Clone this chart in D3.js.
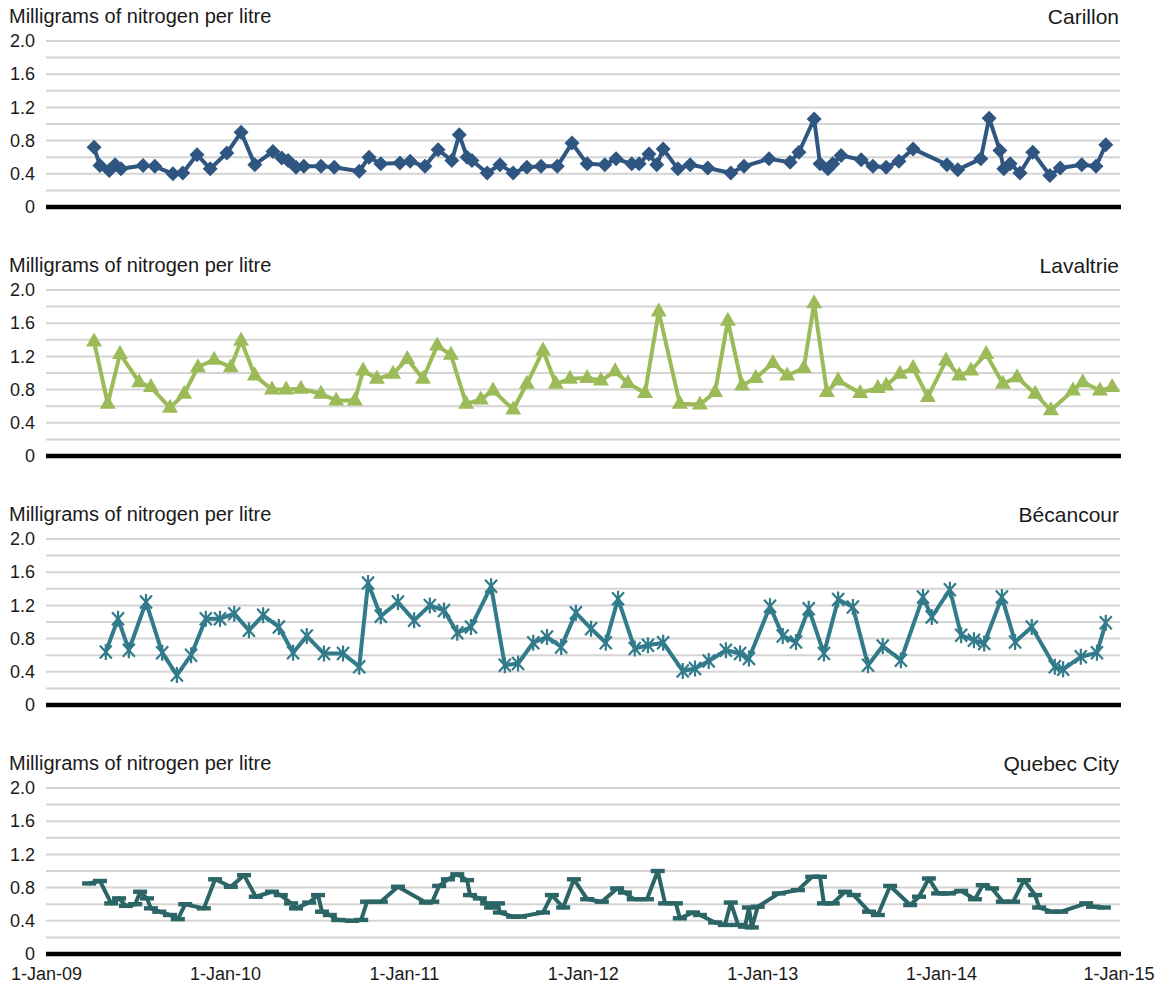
<!DOCTYPE html>
<html>
<head>
<meta charset="utf-8">
<script src="https://cdn.jsdelivr.net/npm/d3@7"></script>
<style>
  body { margin: 0; background: #fff; }
  svg { display: block; }
  text { font-family: "Liberation Sans", Arial, sans-serif; fill: #1a1a1a; }
</style>
</head>
<body>
<svg id="chart" width="1156" height="986"></svg>
<script>
// ---- data -------------------------------------------------------------
const stationNames = ["Carillon", "Lavaltrie", "Bécancour", "Quebec City"];
const unitLabel = "Milligrams of nitrogen per litre";

const yTickValues = [0, 0.4, 0.8, 1.2, 1.6, 2.0];
const yTickLabels = ["0", "0.4", "0.8", "1.2", "1.6", "2.0"];
const xTickDates = ["2009-01-01", "2010-01-01", "2011-01-01", "2012-01-01", "2013-01-01", "2014-01-01", "2015-01-01"];
const xTickLabels = ["1-Jan-09", "1-Jan-10", "1-Jan-11", "1-Jan-12", "1-Jan-13", "1-Jan-14", "1-Jan-15"];

const carillonDates = [
  "2009-04-09","2009-04-21","2009-05-10","2009-05-22","2009-06-03","2009-07-18","2009-08-11","2009-09-17","2009-10-07","2009-11-05","2009-12-02",
  "2010-01-05","2010-02-03","2010-03-03","2010-04-09","2010-04-27","2010-05-10","2010-05-26","2010-06-11","2010-07-16","2010-08-12","2010-10-02","2010-10-22","2010-11-15","2010-12-24",
  "2011-01-14","2011-02-13","2011-03-12","2011-04-09","2011-04-24","2011-05-10","2011-05-20","2011-06-20","2011-07-16","2011-08-12","2011-09-09","2011-10-08","2011-11-10","2011-12-10",
  "2012-01-10","2012-02-15","2012-03-09","2012-04-10","2012-04-25","2012-05-15","2012-05-31","2012-06-13","2012-07-13","2012-08-07","2012-09-12","2012-10-29","2012-11-25",
  "2013-01-15","2013-02-27","2013-03-17","2013-04-17","2013-04-29","2013-05-15","2013-05-25","2013-06-11","2013-07-22","2013-08-15","2013-09-11","2013-10-07","2013-11-05",
  "2014-01-13","2014-02-04","2014-03-23","2014-04-09","2014-05-01","2014-05-09","2014-05-22","2014-06-11","2014-07-07","2014-08-11","2014-09-01","2014-10-15","2014-11-13","2014-12-03"
];
const carillonValues = [
  0.72,0.50,0.44,0.51,0.46,0.50,0.49,0.40,0.41,0.63,0.46,
  0.65,0.90,0.51,0.67,0.59,0.56,0.48,0.49,0.49,0.48,0.43,0.60,0.52,0.53,
  0.55,0.49,0.69,0.56,0.87,0.60,0.56,0.41,0.51,0.41,0.48,0.49,0.49,0.77,
  0.52,0.51,0.58,0.52,0.52,0.64,0.51,0.70,0.46,0.51,0.47,0.41,0.49,
  0.58,0.54,0.66,1.06,0.52,0.46,0.52,0.62,0.57,0.49,0.48,0.55,0.70,
  0.51,0.45,0.58,1.07,0.68,0.46,0.52,0.41,0.66,0.38,0.47,0.51,0.49,0.75
];

const lavaltrieDates = [
  "2009-04-09","2009-05-07","2009-06-01","2009-07-10","2009-08-03","2009-09-11","2009-10-10","2009-11-07","2009-12-10",
  "2010-01-13","2010-02-03","2010-03-03","2010-04-07","2010-05-06","2010-06-05","2010-07-16","2010-08-16","2010-09-23","2010-10-10","2010-11-07","2010-12-10",
  "2011-01-08","2011-02-09","2011-03-10","2011-04-07","2011-05-08","2011-06-07","2011-07-02","2011-08-12","2011-09-09","2011-10-12","2011-11-07","2011-12-06",
  "2012-01-10","2012-02-07","2012-03-07","2012-04-02","2012-05-07","2012-06-04","2012-07-17","2012-08-27","2012-09-27","2012-10-23","2012-11-21","2012-12-19",
  "2013-01-23","2013-02-21","2013-03-27","2013-04-17","2013-05-13","2013-06-05","2013-07-20","2013-08-25","2013-09-11","2013-10-09","2013-11-05","2013-12-05",
  "2014-01-11","2014-02-07","2014-03-03","2014-04-03","2014-05-07","2014-06-05","2014-07-12","2014-08-13","2014-09-27","2014-10-17","2014-11-21","2014-12-16"
];
const lavaltrieValues = [
  1.38,0.63,1.23,0.89,0.83,0.58,0.75,1.07,1.16,
  1.07,1.39,0.97,0.80,0.80,0.81,0.75,0.67,0.67,1.03,0.93,0.99,
  1.17,0.93,1.33,1.22,0.63,0.68,0.79,0.56,0.87,1.27,0.87,0.93,
  0.94,0.91,1.02,0.88,0.76,1.74,0.63,0.62,0.77,1.63,0.85,0.94,
  1.12,0.97,1.06,1.84,0.77,0.91,0.76,0.82,0.85,0.99,1.06,0.71,
  1.15,0.97,1.03,1.23,0.87,0.95,0.75,0.55,0.79,0.89,0.79,0.83
];

const becancourDates = [
  "2009-05-03","2009-05-28","2009-06-19","2009-07-24","2009-08-26","2009-09-25","2009-10-24","2009-11-23","2009-12-22",
  "2010-01-20","2010-02-19","2010-03-20","2010-04-21","2010-05-20","2010-06-17","2010-07-22","2010-08-30","2010-10-02","2010-10-20","2010-11-15","2010-12-20",
  "2011-01-22","2011-02-23","2011-03-24","2011-04-20","2011-05-18","2011-06-28","2011-07-26","2011-08-22","2011-09-22","2011-10-20","2011-11-18","2011-12-18",
  "2012-01-18","2012-02-17","2012-03-13","2012-04-16","2012-05-13","2012-06-13","2012-07-23","2012-08-17","2012-09-14","2012-10-19","2012-11-17","2012-12-05",
  "2013-01-17","2013-02-12","2013-03-11","2013-04-06","2013-05-07","2013-06-05","2013-07-05","2013-08-05","2013-09-04","2013-10-11","2013-11-25","2013-12-13",
  "2014-01-19","2014-02-11","2014-03-09","2014-03-30","2014-05-05","2014-06-01","2014-07-05","2014-08-21","2014-09-07","2014-10-13","2014-11-15","2014-12-03"
];
const becancourValues = [
  0.64,1.04,0.66,1.24,0.63,0.36,0.60,1.04,1.04,
  1.10,0.90,1.08,0.94,0.63,0.83,0.62,0.62,0.46,1.47,1.07,1.24,
  1.02,1.20,1.14,0.87,0.94,1.43,0.48,0.50,0.75,0.82,0.70,1.11,
  0.92,0.75,1.28,0.68,0.72,0.75,0.41,0.44,0.53,0.66,0.62,0.56,
  1.19,0.83,0.76,1.16,0.62,1.27,1.18,0.48,0.71,0.54,1.30,1.06,
  1.39,0.84,0.78,0.74,1.30,0.76,0.94,0.46,0.43,0.58,0.63,0.99
];

const quebecDates = [
  "2009-03-30","2009-04-21","2009-05-14","2009-05-30","2009-06-13","2009-07-02","2009-07-12","2009-07-26","2009-08-03","2009-08-20","2009-09-11","2009-09-27","2009-10-12","2009-11-19","2009-12-12",
  "2010-01-13","2010-02-09","2010-03-05","2010-04-07","2010-04-25","2010-05-16","2010-05-26","2010-06-22","2010-07-10","2010-07-18","2010-08-03","2010-08-20","2010-09-17","2010-10-06","2010-10-18","2010-11-15","2010-12-20",
  "2011-02-15","2011-02-28","2011-03-14","2011-04-01","2011-04-20","2011-05-10","2011-05-16","2011-06-05","2011-06-20","2011-06-28","2011-07-12","2011-07-16","2011-08-12","2011-08-26","2011-10-12","2011-10-30","2011-11-22","2011-12-14",
  "2012-01-10","2012-02-09","2012-03-11","2012-03-27","2012-04-14","2012-05-11","2012-06-02","2012-06-17","2012-07-09","2012-07-17","2012-08-13","2012-08-27","2012-09-27","2012-10-17","2012-10-29","2012-11-13","2012-11-27","2012-12-05","2012-12-11","2012-12-23",
  "2013-02-04","2013-03-15","2013-04-13","2013-04-29","2013-05-07","2013-05-25","2013-06-19","2013-07-07","2013-08-07","2013-08-25","2013-09-19","2013-10-30","2013-11-17","2013-12-07","2013-12-26",
  "2014-01-17","2014-02-11","2014-03-11","2014-03-27","2014-04-15","2014-05-07","2014-05-28","2014-06-19","2014-07-12","2014-07-20","2014-08-15","2014-09-03","2014-10-24","2014-11-07","2014-11-29"
];
const quebecValues = [
  0.85,0.88,0.61,0.67,0.58,0.60,0.75,0.67,0.55,0.51,0.47,0.42,0.60,0.55,0.90,
  0.81,0.95,0.69,0.75,0.71,0.61,0.55,0.62,0.71,0.51,0.47,0.41,0.40,0.41,0.63,0.63,0.81,
  0.62,0.63,0.82,0.90,0.96,0.89,0.71,0.67,0.61,0.56,0.61,0.50,0.45,0.45,0.50,0.71,0.56,0.90,
  0.66,0.63,0.79,0.74,0.66,0.66,1.00,0.61,0.61,0.43,0.50,0.47,0.38,0.35,0.62,0.35,0.33,0.56,0.32,0.57,
  0.73,0.77,0.93,0.93,0.61,0.61,0.75,0.71,0.51,0.47,0.82,0.59,0.69,0.91,0.73,
  0.73,0.76,0.66,0.83,0.79,0.63,0.63,0.89,0.71,0.56,0.51,0.51,0.61,0.57,0.56
];

// ---- panel appearance -------------------------------------------------
const seriesDates = [carillonDates, lavaltrieDates, becancourDates, quebecDates];
const seriesValues = [carillonValues, lavaltrieValues, becancourValues, quebecValues];
const seriesColors = ["#2f5581", "#9bbb59", "#317b8b", "#2c6565"];
const seriesMarkers = ["diamond", "triangle", "star", "dash"];

const parseDate = d3.timeParse("%Y-%m-%d");
const svg = d3.select("#chart");
const fontStack = '"Liberation Sans", Arial, sans-serif';

const left = 46, right = 1120;
const panelStep = 249;
const panelZeroY = 207;   // y of the zero line in the first panel
const panelHeight = 166;  // pixels from 0 to 2.0

const x = d3.scaleTime()
  .domain([parseDate(xTickDates[0]), parseDate(xTickDates[xTickDates.length - 1])])
  .range([left, right]);

const markerPaths = {
  diamond: "M0,-7.5L7.5,0L0,7.5L-7.5,0Z",
  triangle: "M0,-9L8,5L-8,5Z",
  star: "M-6,-6.5L6,6.5M-6,6.5L6,-6.5M0,-8L0,8",
  dash: "M-7,-2.2H7V2.2H-7Z"
};

stationNames.forEach((name, i) => {
  const off = i * panelStep;
  const y = d3.scaleLinear().domain([0, 2]).range([panelZeroY + off, panelZeroY + off - panelHeight]);
  const g = svg.append("g");

  // horizontal gridlines every 0.2
  const gridVals = d3.range(1, 11).map(k => k * 0.2);
  g.append("g").selectAll("line").data(gridVals).join("line")
    .attr("x1", left).attr("x2", right)
    .attr("y1", d => y(d)).attr("y2", d => y(d))
    .attr("stroke", "#d4d4d4").attr("stroke-width", 2);

  // y axis labels
  const yAxis = d3.axisLeft(y).tickValues(yTickValues)
    .tickFormat((d, k) => yTickLabels[k]).tickSize(0).tickPadding(0);
  const ya = g.append("g").attr("transform", `translate(${left - 11},0)`).call(yAxis);
  ya.select(".domain").remove();
  ya.selectAll("text").attr("font-size", 18)
    .style("font-family", fontStack).attr("fill", "#1a1a1a");

  // zero line
  g.append("line")
    .attr("x1", left).attr("x2", right + 1)
    .attr("y1", y(0)).attr("y2", y(0))
    .attr("stroke", "#000").attr("stroke-width", 4.5);

  // titles
  g.append("text").attr("x", 9).attr("y", off + 23)
    .attr("font-size", 20)
    .text(unitLabel);
  g.append("text").attr("x", right - 1).attr("y", off + 24)
    .attr("text-anchor", "end").attr("font-size", 21)
    .text(name);

  // series
  const data = seriesDates[i].map((d, k) => ({ date: parseDate(d), value: seriesValues[i][k] }));
  const color = seriesColors[i];
  const line = d3.line().x(d => x(d.date)).y(d => y(d.value));
  g.append("path").datum(data)
    .attr("d", line).attr("fill", "none")
    .attr("stroke", color).attr("stroke-width", 4)
    .attr("stroke-linejoin", "round");

  const marker = seriesMarkers[i];
  const marks = g.append("g").selectAll("path").data(data).join("path")
    .attr("transform", d => `translate(${x(d.date)},${y(d.value)})`)
    .attr("d", markerPaths[marker]);
  if (marker === "star") {
    marks.attr("fill", "none").attr("stroke", color).attr("stroke-width", 2.2);
  } else {
    marks.attr("fill", color);
  }

  // x axis labels on the bottom panel only
  if (i === stationNames.length - 1) {
    const xAxis = d3.axisBottom(x)
      .tickValues(xTickDates.map(parseDate))
      .tickFormat((d, k) => xTickLabels[k])
      .tickSize(0).tickPadding(13);
    const xa = g.append("g").attr("transform", `translate(0,${y(0)})`).call(xAxis);
    xa.select(".domain").remove();
    xa.selectAll("text").attr("font-size", 18)
      .style("font-family", fontStack).attr("fill", "#1a1a1a");
    // keep the last label inside the frame
    xa.selectAll("text").filter((d, k) => k === xTickLabels.length - 1)
      .attr("text-anchor", "end").attr("dx", 34);
  }
});
</script>
</body>
</html>
